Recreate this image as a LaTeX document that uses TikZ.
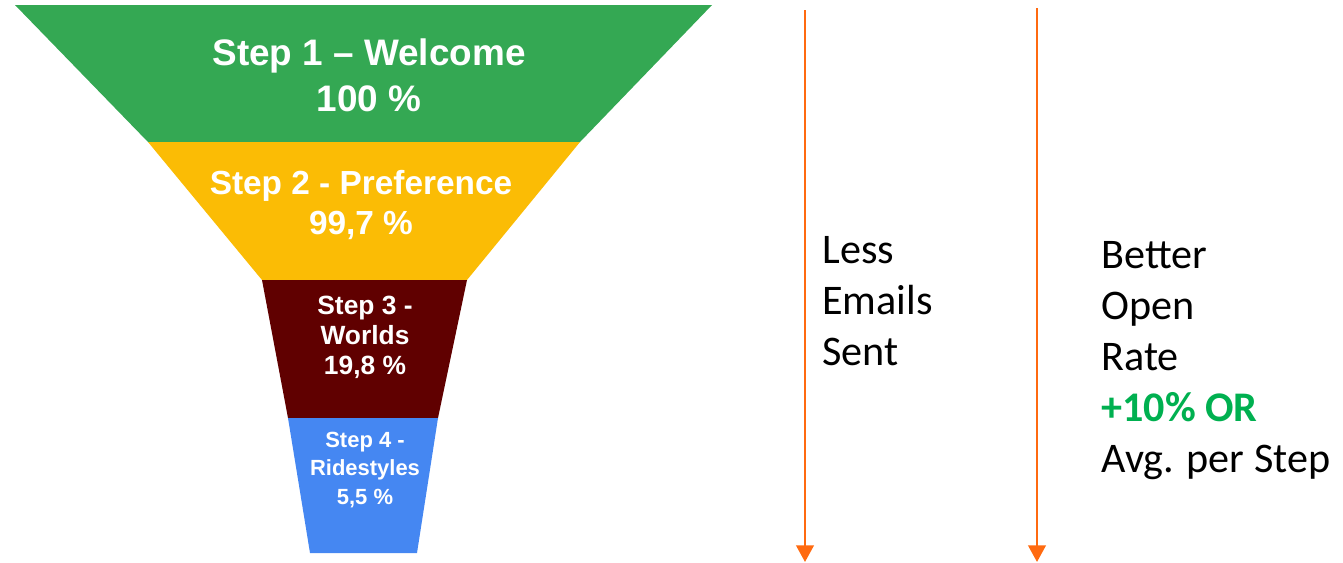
\documentclass[tikz,border=0pt]{standalone}
\usepackage{fontspec}
\setmainfont{Carlito}
\newfontfamily\arialfont{Liberation Sans}
\usetikzlibrary{arrows.meta}
\definecolor{stepgreen}{HTML}{34A853}
\definecolor{stepyellow}{HTML}{FBBC05}
\definecolor{stepred}{HTML}{600000}
\definecolor{stepblue}{HTML}{4587F2}
\definecolor{rateorange}{HTML}{FF6A10}
\definecolor{plusgreen}{HTML}{00B050}

\begin{document}
\begin{tikzpicture}[x=0.02cm,y=-0.02cm,
    steptext/.style={text=white,align=center,inner sep=0pt,font=\arialfont\bfseries},
    ratearrow/.style={rateorange,line width=1.4pt,-{Triangle[width=10pt,length=9.5pt]}},
    sidetext/.style={align=left,inner sep=0pt,anchor=north west,font=\fontsize{24}{29}\selectfont}]
    \useasboundingbox (0,0) rectangle (1343,562);
    % funnel
    \fill[stepgreen](15,5)--(712,5)--(580,142)--(148,142)--cycle;
    \fill[stepyellow](148,142)--(580,142)--(467,280)--(262,280)--cycle;
    \fill[stepred](262,280)--(467,280)--(438,418)--(288,418)--cycle;
    \fill[stepblue](288,418)--(438,418)--(417,553)--(310,553)--cycle;
    \node[steptext,font=\arialfont\bfseries\fontsize{21}{26}\selectfont] (welcome) at (369,75) {Step 1 \textendash{} Welcome\\100 \%};
    \node[steptext,font=\arialfont\bfseries\fontsize{19}{23}\selectfont] (preference) at (361,205) {Step 2 - Preference\\99,7 \%};
    \node[steptext,font=\arialfont\bfseries\fontsize{15}{17}\selectfont] (worlds) at (365,337) {Step 3 -\\Worlds\\19,8 \%};
    \node[steptext,font=\arialfont\bfseries\fontsize{12.5}{16}\selectfont] (ridestyles) at (365,470) {Step 4 -\\Ridestyles\\5,5 \%};
    % arrows
    \coordinate (lesstop) at (805,10);
    \coordinate (lessend) at (805,562);
    \coordinate (opentop) at (1037,8);
    \coordinate (openend) at (1037,562);
    \draw[ratearrow](lesstop)--(lessend);
    \draw[ratearrow](opentop)--(openend);
    \node[sidetext] (less) at (822,236) {Less\\Emails\\Sent};
    \node[sidetext] (better) at (1101,241) {Better\\Open\\Rate\\{\color{plusgreen}\bfseries +10\% OR}\\Avg. per Step};
\end{tikzpicture}
\end{document}
